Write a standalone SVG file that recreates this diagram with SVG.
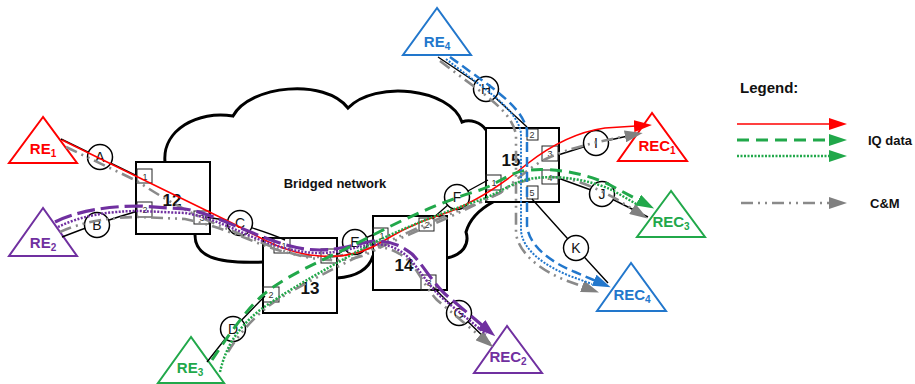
<svg xmlns="http://www.w3.org/2000/svg" width="915" height="384" viewBox="0 0 915 384">
  <style>
    .cloud { fill: none; stroke: #000; stroke-width: 3; stroke-linecap: round; }
    .box { fill: #fff; stroke: #000; stroke-width: 2; }
    .port { fill: none; stroke: #222; stroke-width: 1; }
    .plabel { font-family: "Liberation Sans", Arial, sans-serif; font-size: 9px; fill: #333; text-anchor: middle; }
    .blabel { font-family: "Liberation Sans", Arial, sans-serif; font-size: 17px; font-weight: bold; fill: #111; text-anchor: middle; }
    .link { fill: none; stroke: #000; stroke-width: 1.4; }
    .hop { fill: #fff; stroke: #000; stroke-width: 1.5; }
    .hlabel { font-family: "Liberation Sans", Arial, sans-serif; font-size: 14px; fill: #111; text-anchor: middle; }
    .tri { fill: #fff; stroke-width: 2; stroke-linejoin: miter; }
    .tlabel { font-family: "Liberation Sans", Arial, sans-serif; font-size: 15px; font-weight: bold; text-anchor: middle; }
    .sub { font-size: 10px; }
    .cm { fill: none; stroke: #8a8a8a; stroke-width: 2.6; stroke-dasharray: 12 5 2 5 2 5; }
    .iq-red { fill: none; stroke: #ff0000; stroke-width: 1.6; }
    .pur-dash { fill: none; stroke: #7030a0; stroke-width: 3.2; stroke-dasharray: 18 6; }
    .pur-dot { fill: none; stroke: #7030a0; stroke-width: 2.5; stroke-dasharray: 2 1.5; }
    .grn-dash { fill: none; stroke: #21a84a; stroke-width: 3; stroke-dasharray: 12 7; }
    .grn-dot { fill: none; stroke: #21a84a; stroke-width: 2.5; stroke-dasharray: 2 1.5; }
    .blu-dash { fill: none; stroke: #2277cc; stroke-width: 2.5; stroke-dasharray: 10 5; }
    .blu-dot { fill: none; stroke: #2277cc; stroke-width: 2; stroke-dasharray: 2 1.5; }
    .txt { font-family: "Liberation Sans", Arial, sans-serif; font-weight: bold; fill: #111; }
  </style>
  <defs>
    <marker id="ah-red" markerUnits="userSpaceOnUse" markerWidth="18" markerHeight="12" viewBox="0 0 18 12" refX="2" refY="6" orient="auto"><path d="M0,0 L18,6 L0,12 z" fill="#ff0000"/></marker>
    <marker id="ah-grn" markerUnits="userSpaceOnUse" markerWidth="18" markerHeight="12" viewBox="0 0 18 12" refX="2" refY="6" orient="auto"><path d="M0,0 L18,6 L0,12 z" fill="#21a84a"/></marker>
    <marker id="ah-pur" markerUnits="userSpaceOnUse" markerWidth="18" markerHeight="12" viewBox="0 0 18 12" refX="2" refY="6" orient="auto"><path d="M0,0 L18,6 L0,12 z" fill="#7030a0"/></marker>
    <marker id="ah-blu" markerUnits="userSpaceOnUse" markerWidth="18" markerHeight="12" viewBox="0 0 18 12" refX="2" refY="6" orient="auto"><path d="M0,0 L18,6 L0,12 z" fill="#2277cc"/></marker>
    <marker id="ah-gry" markerUnits="userSpaceOnUse" markerWidth="18" markerHeight="12" viewBox="0 0 18 12" refX="2" refY="6" orient="auto"><path d="M0,0 L18,6 L0,12 z" fill="#808080"/></marker>
  </defs>

  <!-- bridged network cloud -->
  <g id="cloud">
    <path class="cloud" d="M165,162 C162,130 198,110 233,116 C250,85 325,78 348,108 C375,80 450,88 462,122 C470,119 481,122 486,130"/>
    <path class="cloud" d="M195,235 C195,256 215,264 263,262"/>
    <path class="cloud" d="M337,278 C356,277 369,269 373,256"/>
    <path class="cloud" d="M447,258 C462,255 470,245 466,232 C470,218 482,208 493,202"/>
    <text class="txt" x="335" y="188" font-size="13" text-anchor="middle">Bridged network</text>
  </g>

  <!-- bridges -->
  <g id="bridge12">
    <rect class="box" x="136" y="162" width="74" height="72"/>
    <rect class="port" x="137" y="169" width="15" height="14"/><text class="plabel" x="145" y="180">1</text>
    <rect class="port" x="137" y="202" width="15" height="15"/><text class="plabel" x="145" y="213">2</text>
    <rect class="port" x="194" y="211" width="15" height="13"/><text class="plabel" x="202" y="221">3</text>
    <text class="blabel" x="172" y="206">12</text>
  </g>
  <g id="bridge13">
    <rect class="box" x="263" y="238" width="74" height="75"/>
    <rect class="port" x="274" y="238" width="16" height="15"/><text class="plabel" x="284" y="249">1</text>
    <rect class="port" x="321" y="249" width="16" height="14"/><text class="plabel" x="329" y="260">3</text>
    <rect class="port" x="263" y="287" width="16" height="15"/><text class="plabel" x="271" y="298">2</text>
    <text class="blabel" x="310" y="294">13</text>
  </g>
  <g id="bridge14">
    <rect class="box" x="373" y="216" width="74" height="74"/>
    <rect class="port" x="373" y="228" width="15" height="14"/><text class="plabel" x="382" y="239">1</text>
    <rect class="port" x="419" y="218" width="15" height="13"/><text class="plabel" x="427" y="228">2</text>
    <rect class="port" x="421" y="275" width="15" height="15"/><text class="plabel" x="429" y="286">3</text>
    <text class="blabel" x="404" y="271">14</text>
  </g>
  <g id="bridge15">
    <rect class="box" x="486" y="128" width="73" height="74"/>
    <rect class="port" x="527" y="129" width="11" height="11"/><text class="plabel" x="532" y="138">2</text>
    <rect class="port" x="542" y="146" width="16" height="15"/><text class="plabel" x="550" y="157">3</text>
    <rect class="port" x="542" y="170" width="16" height="14"/><text class="plabel" x="550" y="181">4</text>
    <rect class="port" x="486" y="175" width="15" height="15"/><text class="plabel" x="494" y="186">1</text>
    <rect class="port" x="527" y="186" width="11" height="13"/><text class="plabel" x="532" y="196">5</text>
    <text class="blabel" x="511" y="166">15</text>
  </g>

  <!-- radio equipment and controllers -->
  <g id="re1"><polygon class="tri" stroke="#ff0000" points="43,117 9,163 77,163"/><text class="tlabel" fill="#ff0000" x="43" y="154">RE<tspan class="sub" dy="3">1</tspan></text></g>
  <g id="re2"><polygon class="tri" stroke="#7030a0" points="43,208 9,256 77,256"/><text class="tlabel" fill="#7030a0" x="43" y="248">RE<tspan class="sub" dy="3">2</tspan></text></g>
  <g id="re3"><polygon class="tri" stroke="#21a84a" points="191,337 158,383 224,383"/><text class="tlabel" fill="#21a84a" x="190" y="373">RE<tspan class="sub" dy="3">3</tspan></text></g>
  <g id="re4"><polygon class="tri" stroke="#2277cc" points="437,8 403,55 471,55"/><text class="tlabel" fill="#2277cc" x="437" y="47">RE<tspan class="sub" dy="3">4</tspan></text></g>
  <g id="rec1"><polygon class="tri" stroke="#ff0000" points="652,113 618,161 687,161"/><text class="tlabel" fill="#ff0000" x="657" y="151">REC<tspan class="sub" dy="3">1</tspan></text></g>
  <g id="rec2"><polygon class="tri" stroke="#7030a0" points="507,326 474,373 542,373"/><text class="tlabel" fill="#7030a0" x="508" y="362">REC<tspan class="sub" dy="3">2</tspan></text></g>
  <g id="rec3"><polygon class="tri" stroke="#21a84a" points="671,191 637,237 705,237"/><text class="tlabel" fill="#21a84a" x="671" y="227">REC<tspan class="sub" dy="3">3</tspan></text></g>
  <g id="rec4"><polygon class="tri" stroke="#2277cc" points="631,263 597,311 666,311"/><text class="tlabel" fill="#2277cc" x="632" y="300">REC<tspan class="sub" dy="3">4</tspan></text></g>

  <!-- physical links, flows and hops -->
  <g id="connectors">
    <path class="link" d="M61,139 L137,176"/>
    <path class="link" d="M62,237 Q100,222 138,211"/>
    <path class="link" d="M205,217 C220,219 232,221 240,224 C255,229 270,233 285,240"/>
    <path class="link" d="M337,255 L355,242 L375,234"/>
    <path class="link" d="M432,219 L457,197 L488,180"/>
    <path class="link" d="M433,287 L459,313 L490,343"/>
    <path class="link" d="M207,362 L233,329 L265,296"/>
    <path class="link" d="M438,57 L486,89 L527,127"/>
    <path class="link" d="M558,155 L596,143 L628,136"/>
    <path class="link" d="M558,178 L602,194 L648,217"/>
    <path class="link" d="M532,199 L576,248 L608,283"/>

    <g id="hops">
      <circle class="hop" cx="100" cy="157" r="12.5"/><text class="hlabel" x="100" y="162">A</text>
      <circle class="hop" cx="97" cy="225" r="12.5"/><text class="hlabel" x="97" y="230">B</text>
      <circle class="hop" cx="240" cy="223" r="12.5"/><text class="hlabel" x="240" y="228">C</text>
      <circle class="hop" cx="233" cy="329" r="12.5"/><text class="hlabel" x="233" y="334">D</text>
      <circle class="hop" cx="355" cy="242" r="12.5"/><text class="hlabel" x="355" y="247">E</text>
      <circle class="hop" cx="457" cy="197" r="12.5"/><text class="hlabel" x="457" y="202">F</text>
      <circle class="hop" cx="459" cy="313" r="12.5"/><text class="hlabel" x="459" y="318">G</text>
      <circle class="hop" cx="486" cy="89" r="12.5"/><text class="hlabel" x="486" y="94">H</text>
      <circle class="hop" cx="596" cy="143" r="12.5"/><text class="hlabel" x="596" y="148">I</text>
      <circle class="hop" cx="602" cy="194" r="12.5"/><text class="hlabel" x="602" y="199">J</text>
      <circle class="hop" cx="576" cy="248" r="12.5"/><text class="hlabel" x="576" y="253">K</text>
    </g>

    <!-- C&M flows -->
    <path class="cm" marker-end="url(#ah-gry)" d="M66,147 L137,181 C155,193 175,205 200,217 C220,226 240,234 260,242 C285,252 305,259 330,260 C350,261 362,257 375,250 C395,240 420,230 445,219 C465,210 485,200 500,193 C515,182 530,166 548,158 C570,148 595,142 627,136"/>
    <path class="cm" marker-end="url(#ah-gry)" d="M60,232 C82,222 110,217 140,217 L185,219 C205,223 225,230 248,239 C272,249 295,257 322,257 C342,257 354,252 370,248 C386,245 400,252 410,262 C420,274 426,288 437,300 L481,337"/>
    <path class="cm" marker-end="url(#ah-gry)" d="M228,352 C240,332 258,312 280,298 C305,283 335,268 365,253 C395,238 430,222 460,210 C478,203 490,198 500,193 C515,182 530,178 550,177 C575,177 600,190 618,200 L634,210"/>
    <path class="cm" marker-end="url(#ah-gry)" d="M440,61 L480,91 C497,104 513,117 516,135 L516,232 C517,252 540,270 565,280 L584,287"/>

    <!-- IQ data flows -->
    <path class="iq-red" marker-end="url(#ah-red)" d="M62,140 L236,225 C262,239 287,254 320,256 C345,258 363,253 380,243 C395,234 412,224 440,215 C468,206 500,186 527,164 C550,146 576,132 605,128 L636,126"/>
    <path class="pur-dot" d="M58,227 C80,216 108,211 140,211 L185,213 C205,216 225,225 248,235 C272,245 295,253 320,253 C340,253 352,248 368,245 C385,242 398,248 408,257 C420,270 428,285 441,297 L486,334"/>
    <path class="pur-dash" marker-end="url(#ah-pur)" d="M55,222 C75,212 105,206 140,206 L185,209 C205,212 225,222 248,231 C272,241 295,250 320,250 C340,250 352,245 368,242 C385,239 400,244 412,254 C424,266 432,282 445,294 L483,326"/>
    <path class="grn-dot" d="M220,372 C225,350 235,330 260,310 C285,292 320,272 373,243 C410,225 450,210 480,200 C500,193 515,180 535,178 C560,175 590,180 612,190 L638,205"/>
    <path class="grn-dash" marker-end="url(#ah-grn)" d="M212,360 C222,345 245,310 263,295 C290,272 330,258 373,235 C400,221 440,202 480,190 C500,183 510,171 530,170 C555,168 585,173 610,185 L640,201"/>
    <path class="blu-dot" d="M446,59 L484,88 C502,102 518,116 521,133 L521,230 C522,250 545,266 570,276 L592,284"/>
    <path class="blu-dash" marker-end="url(#ah-blu)" d="M450,57 L490,86 C508,100 523,113 527,130 L527,225 C528,245 550,262 575,272 L596,281"/>
  </g>

  <!-- legend -->
  <g id="legend">
    <text class="txt" x="740" y="93" font-size="15">Legend:</text>
    <path class="iq-red" marker-end="url(#ah-red)" d="M737,124 L831,124"/>
    <path class="grn-dash" marker-end="url(#ah-grn)" d="M737,140 L831,140"/>
    <path class="grn-dot" marker-end="url(#ah-grn)" d="M737,156 L831,156"/>
    <text class="txt" x="868" y="145" font-size="13">IQ data</text>
    <path class="cm" marker-end="url(#ah-gry)" d="M741,203 L831,203"/>
    <text class="txt" x="870" y="208" font-size="13">C&amp;M</text>
  </g>
</svg>
